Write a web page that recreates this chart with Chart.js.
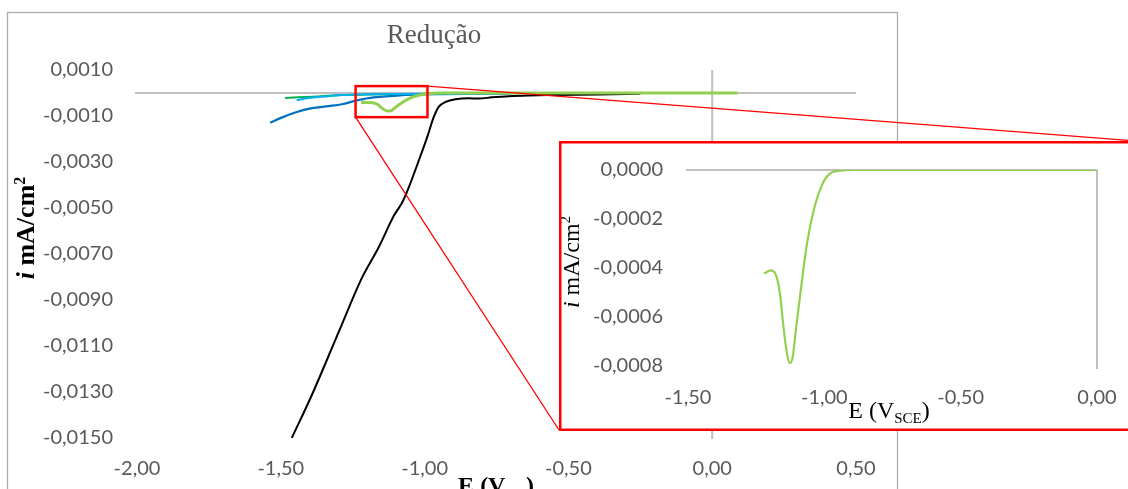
<!DOCTYPE html>
<html>
<head>
<meta charset="utf-8">
<script src="https://cdn.jsdelivr.net/npm/chart.js@4"></script>
<style>
  html, body { margin: 0; padding: 0; background: #fff; overflow: hidden; }
  #mainChart { position: absolute; left: 0; top: 0; }
  #insetChart { position: absolute; left: 559px; top: 141px; background: #fff; }
</style>
</head>
<body>
<canvas id="mainChart" width="1128" height="489"></canvas>
<canvas id="insetChart" width="580" height="290"></canvas>
<script>
// Tick settings
const xTickStep = 0.5;
const yTickStep = 0.002;
const insetYTickStep = 0.0002;

// Series (E in V_SCE, i in mA/cm2)
const blackE = [-1.462, -1.392, -1.293, -1.218, -1.160, -1.107, -1.078, -1.055, -1.020, -0.991, -0.968, -0.951, -0.927, -0.892, -0.846, -0.811, -0.766, -0.706, -0.637, -0.557, -0.393, -0.25];
const blackI = [-0.0150, -0.01313, -0.01022, -0.00804, -0.00672, -0.00534, -0.00476, -0.00410, -0.00293, -0.00192, -0.00104, -0.00060, -0.00039, -0.00027, -0.00023, -0.00024, -0.00019, -0.00014, -0.00011, -0.00009, -0.00006, -0.00003];

const darkBlueE = [-1.537, -1.497, -1.450, -1.392, -1.334, -1.288, -1.241, -1.195, -1.136, -1.078, -1.009, -0.939, -0.70];
const darkBlueI = [-0.00129, -0.00107, -0.00085, -0.00066, -0.00057, -0.00049, -0.00034, -0.00022, -0.00015, -0.00009, -0.00006, -0.00005, -0.00002];

const lightBlueE = [-1.445, -1.404, -1.346, -1.288, -1.229, -1.090, -0.916, -0.70];
const lightBlueI = [-0.00031, -0.00022, -0.00015, -0.00009, -0.00006, -0.00004, -0.00003, -0.00001];

const darkGreenE = [-1.485, -1.439, -1.369, -1.288, -1.195, -1.020, -0.80];
const darkGreenI = [-0.00022, -0.00019, -0.00015, -0.00009, -0.00006, -0.00004, -0.00002];

const lightGreenE = [-1.221, -1.197, -1.180, -1.163, -1.150, -1.137, -1.127, -1.116, -1.103, -1.083, -1.063, -1.036, -1.009, -0.983, -0.942, -0.889, -0.5, 0.0886];
const lightGreenI = [-0.000422, -0.000410, -0.000422, -0.000502, -0.000639, -0.000749, -0.000788, -0.000763, -0.000639, -0.000460, -0.000296, -0.000151, -0.000062, -0.000018, -0.000003, 0, 0, 0];

// zoom window shown in the inset
const zoomE = [-1.24, -0.99];
const zoomI = [0.0003, -0.00105];

function pts(xs, ys) {
    return xs.map((x, i) => ({ x: x, y: ys[i] }));
}

const tickColor = '#595959';
const tickFont = { family: 'Lato', size: 20 };

function line(label, xs, ys, color, width) {
    return {
        label: label,
        data: pts(xs, ys),
        borderColor: color,
        backgroundColor: color,
        borderWidth: width,
        pointRadius: 0,
        showLine: true,
        cubicInterpolationMode: 'monotone',
        fill: false
    };
}

// draws text made of several pieces (normal / italic / sub / sup)
function drawParts(ctx, parts, cx, cy, angle) {
    ctx.save();
    ctx.translate(cx, cy);
    ctx.rotate(angle);
    ctx.textBaseline = 'alphabetic';
    ctx.textAlign = 'left';
    let total = 0;
    parts.forEach(p => { ctx.font = p.font; p.w = ctx.measureText(p.text).width; total += p.w; });
    let x = -total / 2;
    parts.forEach(p => {
        ctx.font = p.font;
        ctx.fillStyle = p.color;
        ctx.fillText(p.text, x, p.dy || 0);
        x += p.w;
    });
    ctx.restore();
}

// axis lines crossing at zero
const crossLines = {
    id: 'crossLines',
    beforeDatasetsDraw(chart, args, opts) {
        const { ctx, chartArea, scales } = chart;
        ctx.save();
        ctx.strokeStyle = '#BFBFBF';
        ctx.lineWidth = 2;
        const y0 = scales.y.getPixelForValue(0);
        const x0 = scales.x.getPixelForValue(0);
        ctx.beginPath();
        ctx.moveTo(chartArea.left - 2, y0);
        ctx.lineTo(chartArea.right, y0);
        ctx.moveTo(x0, chartArea.top);
        ctx.lineTo(x0, chartArea.bottom + (opts.extra || 0));
        ctx.stroke();
        ctx.restore();
    }
};

const mainDecor = {
    id: 'mainDecor',
    beforeDraw(chart) {
        const ctx = chart.ctx;
        ctx.save();
        ctx.fillStyle = '#fff';
        ctx.fillRect(0, 0, chart.width, chart.height);
        ctx.strokeStyle = '#ADADAD';
        ctx.lineWidth = 1.3;
        ctx.strokeRect(7.5, 12.5, 890, 520);
        ctx.restore();
    },
    afterDraw(chart) {
        const { ctx, scales } = chart;
        // title
        ctx.save();
        ctx.font = '27px "Liberation Serif"';
        ctx.fillStyle = '#595959';
        ctx.textAlign = 'center';
        ctx.textBaseline = 'alphabetic';
        ctx.fillText('Redução', 434, 43);
        ctx.restore();
        // y title
        const b = 'bold 26px "Liberation Serif"';
        drawParts(ctx, [
            { text: 'i', font: 'italic bold 26px "Liberation Serif"', color: '#000' },
            { text: ' mA/cm', font: b, color: '#000' },
            { text: '2', font: 'bold 16px "Liberation Serif"', color: '#000', dy: -9 }
        ], 34, 228, -Math.PI / 2);
        // x title
        const xb = 'bold 24px "Liberation Serif"';
        drawParts(ctx, [
            { text: 'E (V', font: xb, color: '#000' },
            { text: 'sce', font: 'bold 16px "Liberation Serif"', color: '#000', dy: 5 },
            { text: ')', font: xb, color: '#000' }
        ], 496, 493, 0);
        // zoom rectangle and connector lines
        const x1 = scales.x.getPixelForValue(zoomE[0]);
        const x2 = scales.x.getPixelForValue(zoomE[1]);
        const y1 = scales.y.getPixelForValue(zoomI[0]);
        const y2 = scales.y.getPixelForValue(zoomI[1]);
        ctx.save();
        ctx.strokeStyle = '#FF0000';
        ctx.lineWidth = 1.3;
        ctx.beginPath();
        ctx.moveTo(x1, y2);
        ctx.lineTo(559, 430);
        ctx.moveTo(x2, y1);
        ctx.lineTo(1136, 141);
        ctx.stroke();
        ctx.lineWidth = 2.5;
        ctx.strokeRect(x1, y1, x2 - x1, y2 - y1);
        ctx.restore();
    }
};

const mainChart = new Chart(document.getElementById('mainChart').getContext('2d'), {
    type: 'scatter',
    data: {
        datasets: [
            line('Verde claro', lightGreenE, lightGreenI, '#92D050', 3),
            line('Preto', blackE, blackI, '#000000', 2),
            line('Azul claro', lightBlueE, lightBlueI, '#00B0F0', 2),
            line('Verde', darkGreenE, darkGreenI, '#00B050', 2),
            line('Azul', darkBlueE, darkBlueI, '#0070C0', 2.2)
        ]
    },
    options: {
        responsive: false,
        animation: false,
        layout: { padding: { left: 0, top: 70, right: 272, bottom: 0 } },
        plugins: {
            legend: { display: false },
            tooltip: { enabled: false },
            crossLines: { extra: 1 }
        },
        scales: {
            x: {
                type: 'linear',
                min: -2,
                max: 0.5,
                afterFit: s => { s.height = 51; },
                grid: { display: false, drawTicks: false },
                border: { display: false },
                ticks: {
                    stepSize: xTickStep,
                    padding: 19,
                    color: tickColor,
                    font: tickFont,
                    maxRotation: 0,
                    callback: v => v.toFixed(2).replace('.', ',').replace('-0,00', '0,00')
                }
            },
            y: {
                type: 'linear',
                min: -0.015,
                max: 0.001,
                afterFit: s => { s.width = 137; },
                grid: { display: false, drawTicks: false },
                border: { display: false },
                ticks: {
                    stepSize: yTickStep,
                    padding: 24,
                    color: tickColor,
                    font: tickFont,
                    callback: v => v.toFixed(4).replace('.', ',')
                }
            }
        }
    },
    plugins: [crossLines, mainDecor]
});

const insetDecor = {
    id: 'insetDecor',
    beforeDraw(chart) {
        const ctx = chart.ctx;
        ctx.save();
        ctx.fillStyle = '#fff';
        ctx.fillRect(0, 0, chart.width, chart.height);
        ctx.restore();
    },
    afterDraw(chart) {
        const ctx = chart.ctx;
        const n = '24px "Liberation Serif"';
        drawParts(ctx, [
            { text: 'i', font: 'italic 24px "Liberation Serif"', color: '#000' },
            { text: ' mA/cm', font: n, color: '#000' },
            { text: '2', font: '15px "Liberation Serif"', color: '#000', dy: -9 }
        ], 20, 121, -Math.PI / 2);
        drawParts(ctx, [
            { text: 'E (V', font: n, color: '#000' },
            { text: 'SCE', font: '15px "Liberation Serif"', color: '#000', dy: 5 },
            { text: ')', font: n, color: '#000' }
        ], 330, 277, 0);
        ctx.save();
        ctx.strokeStyle = '#FF0000';
        ctx.lineWidth = 2.5;
        ctx.strokeRect(1.25, 1.25, chart.width + 10, chart.height - 2.5);
        ctx.restore();
    }
};

const insetChart = new Chart(document.getElementById('insetChart').getContext('2d'), {
    type: 'scatter',
    data: {
        datasets: [
            line('Verde claro', lightGreenE, lightGreenI, '#92D050', 2.2)
        ]
    },
    options: {
        responsive: false,
        animation: false,
        layout: { padding: { left: 0, top: 29, right: 42, bottom: 0 } },
        plugins: {
            legend: { display: false },
            tooltip: { enabled: false },
            crossLines: { extra: 3 }
        },
        scales: {
            x: {
                type: 'linear',
                min: -1.5,
                max: 0,
                afterFit: s => { s.height = 65; },
                grid: { display: false, drawTicks: false },
                border: { display: false },
                ticks: {
                    stepSize: xTickStep,
                    padding: 20,
                    color: tickColor,
                    font: tickFont,
                    maxRotation: 0,
                    callback: v => v.toFixed(2).replace('.', ',').replace('-0,00', '0,00')
                }
            },
            y: {
                type: 'linear',
                min: -0.0008,
                max: 0,
                afterFit: s => { s.width = 129; s.paddingTop = 0; s.paddingBottom = 0; },
                grid: { display: false, drawTicks: false },
                border: { display: false },
                ticks: {
                    stepSize: insetYTickStep,
                    padding: 25,
                    color: tickColor,
                    font: tickFont,
                    callback: v => v.toFixed(4).replace('.', ',').replace('-0,0000', '0,0000')
                }
            }
        }
    },
    plugins: [crossLines, insetDecor]
});
</script>
</body>
</html>
